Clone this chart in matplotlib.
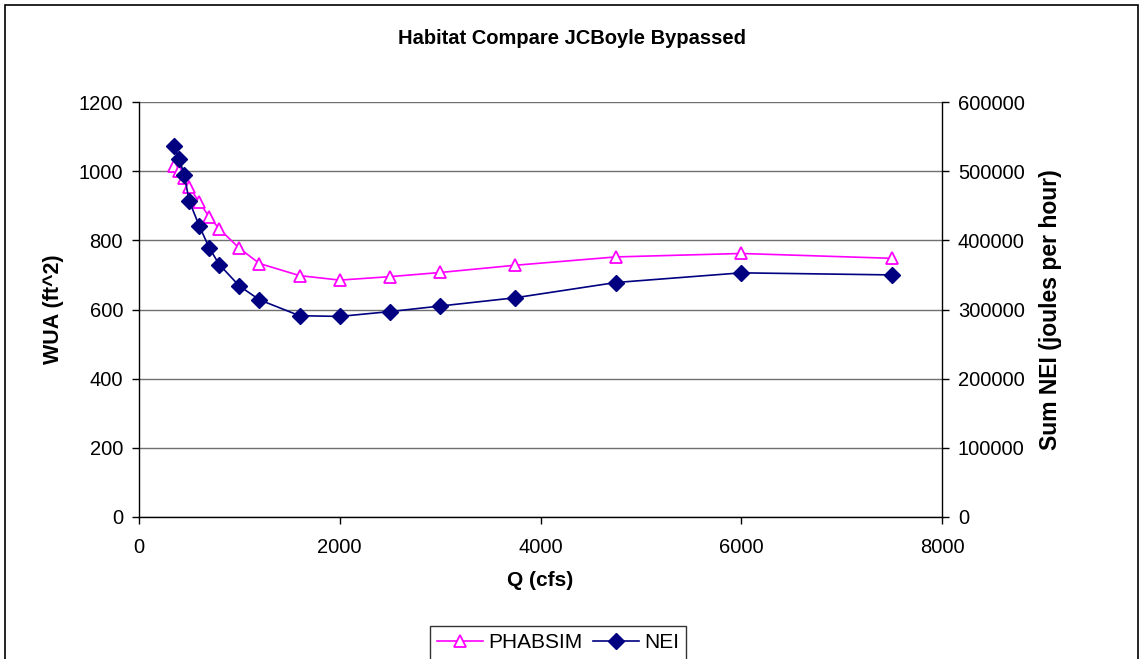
import numpy as np
import matplotlib.pyplot as plt
from matplotlib.lines import Line2D

plt.rcParams['font.family'] = ['Liberation Sans', 'DejaVu Sans']

# flow values (cfs)
q_cfs = [350, 400, 450, 500, 600, 700, 800, 1000, 1200, 1600, 2000, 2500, 3000, 3750, 4750, 6000, 7500]
# PHABSIM weighted usable area (ft^2)
phabsim_wua = [1015, 1000, 981, 955, 910, 868, 833, 777, 733, 698, 685, 695, 707, 728, 752, 762, 748]
# summed net energy intake (joules per hour)
nei_sum = [536000, 518000, 495000, 457000, 421000, 389000, 365000, 334000, 314000, 291000, 290000,
           297000, 305000, 317000, 339000, 353000, 350000]

left_ticks = [0, 200, 400, 600, 800, 1000, 1200]
right_ticks = [0, 100000, 200000, 300000, 400000, 500000, 600000]
x_ticks = [0, 2000, 4000, 6000, 8000]

W, H = 1143, 659
fig = plt.figure(figsize=(W / 100, H / 100), dpi=100)
ax = fig.add_axes([139 / W, 1 - 517 / H, (942 - 139) / W, (517 - 102) / H])
ax2 = ax.twinx()

ax.set_xlim(0, 8000)
ax.set_ylim(0, 1200)
ax2.set_ylim(0, 600000)
ax.set_xticks(x_ticks)
ax.set_yticks(left_ticks)
ax2.set_yticks(right_ticks)
ax2.set_yticklabels([str(v) for v in right_ticks])

ax.yaxis.grid(True, color='#707070', linewidth=1)
ax.set_axisbelow(True)

ax.plot(q_cfs, phabsim_wua, color='#FF00FF', linewidth=1.2, marker='^', markersize=9,
        markerfacecolor='white', markeredgecolor='#FF00FF', markeredgewidth=1.3, zorder=3)
ax2.plot(q_cfs, nei_sum, color='#000080', linewidth=1.2, marker='D', markersize=8,
         markerfacecolor='#000080', markeredgecolor='#000080', zorder=3)

for a in (ax, ax2):
    a.spines['top'].set_visible(False)
    for s in ('left', 'right', 'bottom'):
        a.spines[s].set_color('black')
        a.spines[s].set_linewidth(1)
    a.tick_params(direction='out', length=5, width=1, color='black', labelsize=14.5, pad=6.5)
ax.tick_params(axis='x', pad=10)
ax2.spines['left'].set_visible(False)
ax2.spines['bottom'].set_visible(False)
ax.spines['right'].set_visible(False)

ax.set_xlabel('Q (cfs)', fontsize=15, fontweight='bold')
ax.set_ylabel('WUA (ft^2)', fontsize=15.5, fontweight='bold')
ax2.set_ylabel('Sum NEI (joules per hour)', fontsize=16.5, fontweight='bold')
ax.xaxis.label.set_va('center')
ax.yaxis.label.set_va('center')
ax2.yaxis.label.set_va('center')
ax.xaxis.set_label_coords(0.5, (517 - 580) / 415)
ax.yaxis.set_label_coords((54 - 139) / 803, 0.5)
ax2.yaxis.set_label_coords((1050 - 139) / 803, 0.5)

fig.text(0.5, 1 - 39 / H, 'Habitat Compare JCBoyle Bypassed', ha='center', va='center',
         fontsize=14.5, fontweight='bold')

handles = [
    Line2D([], [], color='#FF00FF', marker='^', markersize=9, markerfacecolor='white',
           markeredgecolor='#FF00FF', markeredgewidth=1.3, linewidth=1.2),
    Line2D([], [], color='#000080', marker='D', markersize=8, linewidth=1.2),
]
leg = fig.legend(handles, ['PHABSIM', 'NEI'], loc='center', bbox_to_anchor=(558 / W, 1 - 643 / H),
                 ncol=2, fontsize=15, frameon=True, fancybox=False, edgecolor='black',
                 handlelength=2.2, columnspacing=0.5, handletextpad=0.25, borderpad=0.35)
leg.get_frame().set_linewidth(1)

# outer chart frame
fig.add_artist(plt.Rectangle((5 / W, -0.01), (1138 - 5) / W, 1 - 5 / H + 0.01,
                             transform=fig.transFigure, fill=False, edgecolor='black', linewidth=1.2))

fig.savefig('out.png', dpi=100)
